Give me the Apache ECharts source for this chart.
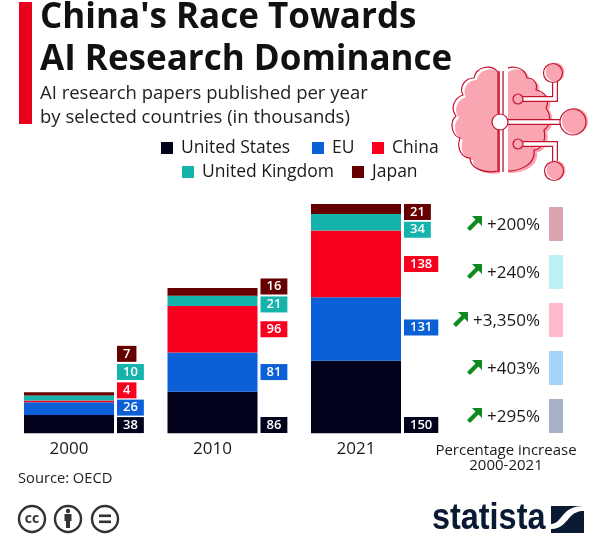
<!DOCTYPE html>
<html>
<head>
<meta charset="utf-8">
<style>
html, body { margin: 0; padding: 0; background: #fff; }
#chart { width: 600px; height: 540px; }
</style>
<script src="https://cdn.jsdelivr.net/npm/echarts@6/dist/echarts.min.js"></script>
</head>
<body>
<div id="chart"></div>
<script>
// Data (thousands of papers)
var years = ['2000', '2010', '2021'];
var unitedStates = [38, 86, 150];
var eu = [26, 81, 131];
var china = [4, 96, 138];
var unitedKingdom = [10, 21, 34];
var japan = [7, 16, 21];
var increases = ['+200%', '+240%', '+3,350%', '+403%', '+295%'];

var font = '"Open Sans", sans-serif';
var ink = '#1a1a1a';

// Vertical nudges (px) that keep the value boxes from colliding, per series and year
var labelShift = {
    us: [1, 12.5, 28],
    eu: [-1, 0, -1.5],
    china: [-11, 0, 0],
    uk: [-26, 3.5, 7.5],
    japan: [-40, -5.5, 3]
};

function makeSeries(name, values, color, shift) {
    return {
        name: name,
        type: 'bar',
        stack: 'papers',
        barWidth: 90,
        clip: false, // outer bars hang past the grid because the axis has no boundary gap
        itemStyle: { color: color },
        data: values.map(function (v, i) {
            return { value: v, label: { offset: [0, shift[i]] } };
        }),
        label: {
            show: true,
            position: 'right',
            distance: 3,
            color: '#fff',
            fontFamily: font,
            fontSize: 13,
            fontWeight: 600,
            lineHeight: 14,
            backgroundColor: color,
            padding: [1, 6, 1, 6]
        }
    };
}

// The graphic component has no plain path type, so register each outline as a shape
var shapeCount = 0;
function pathEl(d, style, x, y) {
    var name = 'iconPath' + (shapeCount++);
    echarts.graphic.registerShape(name, echarts.graphic.extendPath(d, {}));
    return { type: name, x: x || 0, y: y || 0, style: style };
}

// Percentage column on the right, top row is Japan
var paleColors = ['#d9a6b0', '#bdf0f2', '#ffb9ca', '#a6d4fa', '#a8b0c6'];
var arrowLeft = [467, 467, 453, 467, 467];
var rowCentres = [224, 272, 320, 368, 416];

var graphics = [
    { type: 'rect', shape: { x: 19, y: 2, width: 13, height: 122 }, style: { fill: '#e8001f' } },
    { type: 'text', x: 40, y: -3, style: { text: "China's Race Towards\nAI Research Dominance", font: '700 35px ' + font, fill: '#111', lineHeight: 42 } },
    { type: 'text', x: 40, y: 82, style: { text: 'AI research papers published per year\nby selected countries (in thousands)', font: '400 18.5px ' + font, fill: '#222', lineHeight: 24 } },
    { type: 'text', x: 506, y: 443, style: { text: 'Percentage increase\n2000-2021', font: '400 15px ' + font, fill: ink, align: 'center', lineHeight: 15 } },
    { type: 'text', x: 18, y: 471, style: { text: 'Source: OECD', font: '400 14.7px ' + font, fill: '#222' } }
];

increases.forEach(function (label, i) {
    var cy = rowCentres[i];
    graphics.push({ type: 'rect', shape: { x: 549, y: cy - 17, width: 14, height: 34 }, style: { fill: paleColors[i] } });
    graphics.push({ type: 'text', x: 540, y: cy - 7, style: { text: label, font: '400 17px ' + font, fill: ink, align: 'right' } });
    graphics.push({
        type: 'polygon',
        x: arrowLeft[i],
        y: cy - 8,
        shape: { points: [[5, 0], [15, 0], [15, 10], [11.5, 6.5], [3, 15], [0, 12], [8.5, 3.5]] },
        style: { fill: '#0f8a1e' }
    });
});

// Brain icon
var brainLeft = 'M498 72 C492 64 476 66 474 78 C464 78 459 88 463 95 C454 98 450 108 456 116 C449 122 452 136 460 138 C456 148 462 158 470 158 C470 168 484 174 498 171 Z';
var brainRight = 'M503 72 C509 64 525 66 527 78 C534 78 538 84 536 90 C546 92 550 100 546 108 C552 116 550 126 544 130 C547 142 540 150 534 150 C536 162 524 172 503 171 Z';
var brainLine = '#c4122f';
[brainLeft, brainRight].forEach(function (p) {
    graphics.push(pathEl(p, { fill: '#f9a6b2' }, 3, 2));
});
[brainLeft, brainRight].forEach(function (p) {
    graphics.push(pathEl(p, { fill: 'none', stroke: brainLine, lineWidth: 1.2 }));
});
// gap between the two lobes
graphics.push({ type: 'rect', shape: { x: 500, y: 66, width: 8, height: 110 }, style: { fill: '#fff' } });
graphics.push({ type: 'rect', shape: { x: 498.4, y: 71, width: 1.3, height: 101 }, style: { fill: brainLine } });
graphics.push({ type: 'rect', shape: { x: 502.4, y: 71, width: 1.3, height: 101 }, style: { fill: brainLine } });
// circuit traces: white band with a thin edge
[
    'M518 99 L555 99 L555 74',
    'M500 122 L565 122',
    'M518 144 L555 144 L555 168'
].forEach(function (p) {
    graphics.push(pathEl(p, { fill: 'none', stroke: brainLine, lineWidth: 6 }));
    graphics.push(pathEl(p, { fill: 'none', stroke: '#fff', lineWidth: 3.6 }));
});
[[553, 73, 9.5, 1], [518, 99, 5, 0], [500, 122, 8, 2], [573, 122, 13, 1], [518, 144, 5, 0], [554, 171, 9.5, 1]].forEach(function (c) {
    if (c[3] === 1) {
        graphics.push({ type: 'circle', shape: { cx: c[0], cy: c[1], r: c[2] }, style: { fill: '#fff' } });
        graphics.push({ type: 'circle', shape: { cx: c[0] + 2, cy: c[1] - 1, r: c[2] }, style: { fill: '#f9a6b2' } });
    }
    graphics.push({
        type: 'circle',
        shape: { cx: c[0], cy: c[1], r: c[2] },
        style: { fill: c[3] === 2 ? '#fff' : (c[3] === 0 ? '#f9a6b2' : 'none'), stroke: brainLine, lineWidth: 1.2 }
    });
});

// Licence badges
var badge = '#333';
[32, 68, 105].forEach(function (cx) {
    graphics.push({ type: 'circle', shape: { cx: cx, cy: 519, r: 13 }, style: { fill: '#fff', stroke: badge, lineWidth: 2.4 } });
});
graphics.push({ type: 'text', x: 32, y: 519, style: { text: 'cc', font: '700 14px ' + font, fill: badge, align: 'center', verticalAlign: 'middle' } });
graphics.push({ type: 'circle', shape: { cx: 68, cy: 511, r: 2.2 }, style: { fill: badge } });
graphics.push({ type: 'rect', shape: { x: 64.5, y: 514, width: 7, height: 7 }, style: { fill: badge } });
graphics.push({ type: 'rect', shape: { x: 66, y: 521, width: 4, height: 7 }, style: { fill: badge } });
graphics.push({ type: 'rect', shape: { x: 99, y: 514.5, width: 12, height: 2.6 }, style: { fill: badge } });
graphics.push({ type: 'rect', shape: { x: 99, y: 520.5, width: 12, height: 2.6 }, style: { fill: badge } });

// Statista logo
var navy = '#0a1a33';
graphics.push({ type: 'text', x: 432, y: 501, scaleX: 0.9, style: { text: 'statista', font: '700 36px "Liberation Sans", sans-serif', fill: navy } });
graphics.push({ type: 'rect', shape: { x: 551, y: 506, width: 33, height: 27 }, style: { fill: navy } });
graphics.push(pathEl('M551 529 C562 529 566 521 571 516 C574 513 578 511 584 511 L584 506 C574 506 568 509 563 515 C559 520 556 524 551 524 Z', { fill: '#fff' }));

var chart = echarts.init(document.getElementById('chart'), null, { renderer: 'canvas' });

var legendText = { fontFamily: font, fontSize: 17.5, color: ink, padding: [0, 0, 0, 3] };

function legendAt(name, left, top) {
    return { data: [name], left: left, top: top, icon: 'rect', itemWidth: 12, itemHeight: 12, textStyle: legendText, selectedMode: false };
}

chart.setOption({
    animation: false,
    backgroundColor: '#fff',
    legend: [
        legendAt('United States', 156, 134),
        legendAt('EU', 307, 134),
        legendAt('China', 367, 134),
        legendAt('United Kingdom', 177, 158),
        legendAt('Japan', 347, 158)
    ],
    grid: { left: 69, top: 191.3, width: 287, height: 242 },
    xAxis: {
        type: 'category',
        data: years,
        boundaryGap: false,
        axisLine: { show: false },
        axisTick: { show: false },
        axisLabel: { color: ink, fontFamily: font, fontSize: 17, margin: 7 }
    },
    yAxis: { type: 'value', min: 0, max: 500, show: false },
    series: [
        makeSeries('United States', unitedStates, '#02021c', labelShift.us),
        makeSeries('EU', eu, '#0b60d8', labelShift.eu),
        makeSeries('China', china, '#f8001e', labelShift.china),
        makeSeries('United Kingdom', unitedKingdom, '#16b3ac', labelShift.uk),
        makeSeries('Japan', japan, '#660000', labelShift.japan)
    ],
    graphic: graphics
});
</script>
</body>
</html>
